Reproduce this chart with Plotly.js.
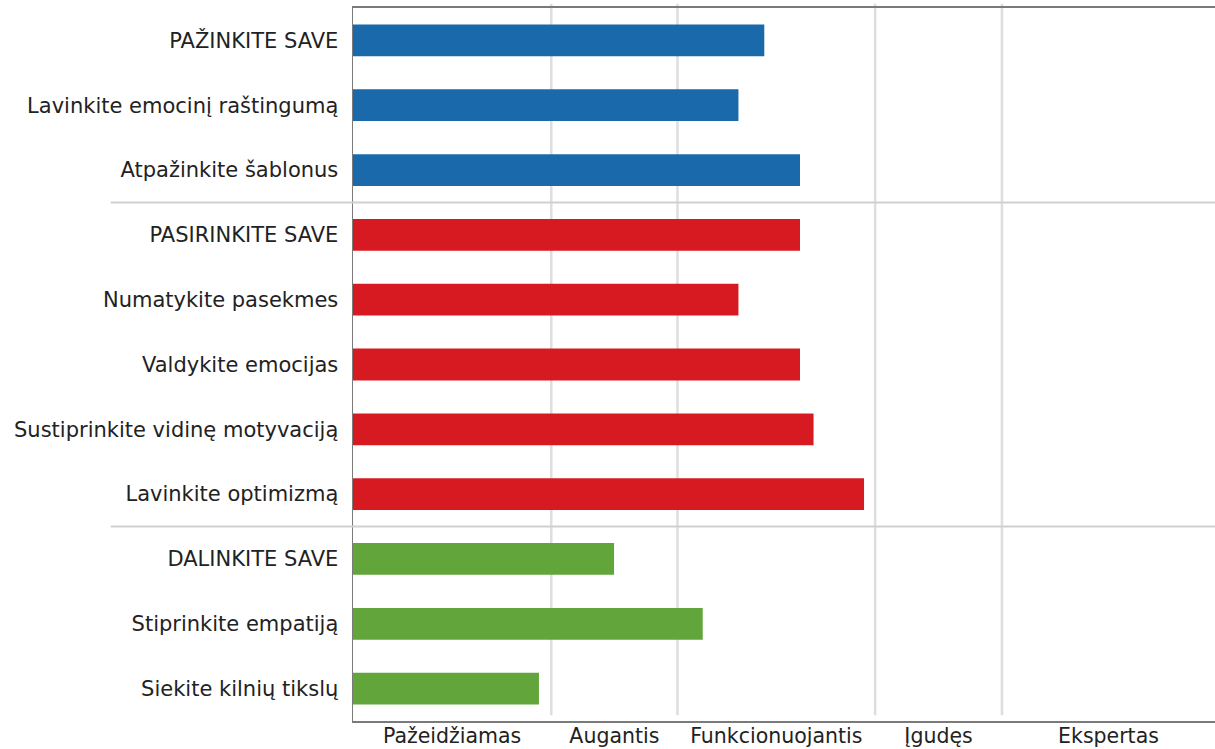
<!DOCTYPE html>
<html>
<head>
<meta charset="utf-8">
<script src="https://cdn.plot.ly/plotly-3.0.1.min.js"></script>
<style>
  html, body { margin: 0; padding: 0; background: #ffffff; }
  #chart { width: 1215px; height: 749px; }
</style>
</head>
<body>
<div id="chart"></div>
<script>
// Competencies, top to bottom, grouped in three sections
const competencies = [
  "PAŽINKITE SAVE",
  "Lavinkite emocinį raštingumą",
  "Atpažinkite šablonus",
  "PASIRINKITE SAVE",
  "Numatykite pasekmes",
  "Valdykite emocijas",
  "Sustiprinkite vidinę motyvaciją",
  "Lavinkite optimizmą",
  "DALINKITE SAVE",
  "Stiprinkite empatiją",
  "Siekite kilnių tikslų"
];
const scores = [98.4, 96.3, 101.3, 101.3, 96.3, 101.3, 102.4, 106.5, 86.2, 93.4, 80.1];
const groups = ["know", "know", "know", "choose", "choose", "choose", "choose", "choose", "give", "give", "give"];
const groupColors = { know: "#1a6aab", choose: "#d71a22", give: "#62a53a" };

// Score scale and the level bands along it
const scaleMin = 65;
const scaleMax = 135;
const levelEdges = [65, 81.1, 91.35, 107.4, 117.7, 135];
const levelNames = ["Pažeidžiamas", "Augantis", "Funkcionuojantis", "Įgudęs", "Ekspertas"];

// Section separators sit between these rows
const sectionBreaks = [2.5, 7.5];

const levelMids = levelNames.map((_, i) => (levelEdges[i] + levelEdges[i + 1]) / 2);

const bars = {
  type: "bar",
  orientation: "h",
  y: competencies,
  x: scores.map(s => s - scaleMin),
  base: scaleMin,
  width: 0.49,
  marker: {
    color: groups.map(g => groupColors[g]),
    line: { width: 0 }
  },
  hoverinfo: "y+text",
  text: scores.map(String),
  textposition: "none"
};

const shapes = [];
// Vertical lines at the boundaries between levels
levelEdges.slice(1, -1).forEach(v => {
  shapes.push({
    type: "line", layer: "below",
    xref: "x", yref: "paper",
    x0: v, x1: v, y0: 0.008, y1: 1.006,
    line: { color: "#dedede", width: 2.5 }
  });
});
// Horizontal separators between sections, running into the label area
sectionBreaks.forEach(r => {
  shapes.push({
    type: "line", layer: "above",
    xref: "paper", yref: "y",
    x0: -0.281, x1: 1, y0: r, y1: r,
    line: { color: "#d0d0d0", width: 2 }
  });
});

const layout = {
  width: 1215,
  height: 749,
  margin: { l: 353, r: 0, t: 8, b: 28, pad: 0 },
  paper_bgcolor: "#ffffff",
  plot_bgcolor: "#ffffff",
  showlegend: false,
  font: { family: "DejaVu Sans, Verdana, sans-serif", color: "#222222", size: 21 },
  xaxis: {
    range: [scaleMin, scaleMax],
    tickmode: "array",
    tickvals: levelMids,
    ticktext: levelNames,
    ticks: "",
    showgrid: false,
    zeroline: false,
    showline: true,
    mirror: true,
    linecolor: "#7a7a7a",
    linewidth: 2,
    tickfont: { size: 20.5, color: "#222222" },
    ticklabelstandoff: -5,
    fixedrange: true
  },
  yaxis: {
    type: "category",
    autorange: "reversed",
    range: [10.5, -0.5],
    ticks: "",
    ticklen: 0,
    showgrid: false,
    zeroline: false,
    showline: true,
    linecolor: "#7a7a7a",
    linewidth: 1.5,
    tickfont: { size: 21, color: "#222222" },
    ticklabelstandoff: 9,
    fixedrange: true
  },
  shapes: shapes
};

Plotly.newPlot("chart", [bars], layout, { displayModeBar: false, staticPlot: true });
</script>
</body>
</html>
